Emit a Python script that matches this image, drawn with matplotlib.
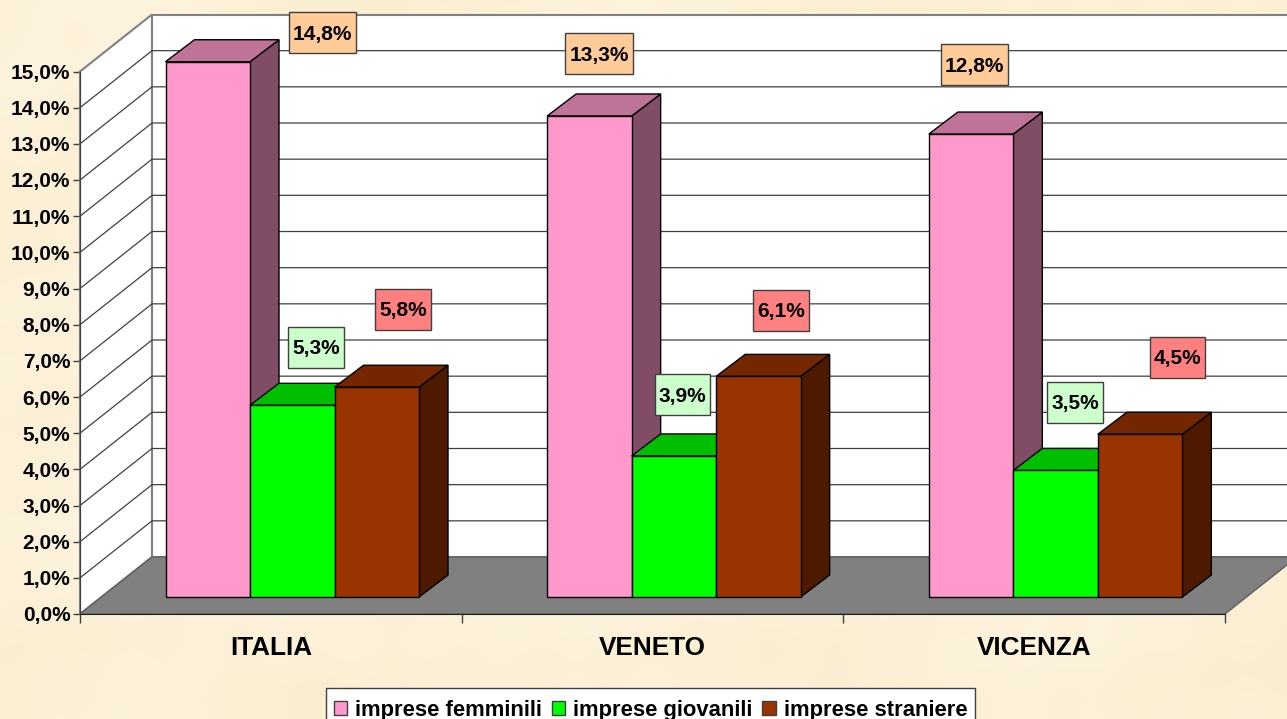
import numpy as np
import matplotlib
matplotlib.use('Agg')
import matplotlib.pyplot as plt
from matplotlib.patches import Polygon, Patch, Rectangle

plt.rcParams['font.family'] = ['Liberation Sans', 'DejaVu Sans']
plt.rcParams['font.weight'] = 'bold'

categories = ['ITALIA', 'VENETO', 'VICENZA']
series_names = ['imprese femminili', 'imprese giovanili', 'imprese straniere']
femminili = [14.8, 13.3, 12.8]
giovanili = [5.3, 3.9, 3.5]
straniere = [5.8, 6.1, 4.5]
y_ticks = np.arange(0, 16)

W, H = 1287, 719
# colours: front, top, side, label box
front = ['#FF99CC', '#00FF00', '#993300']
top = ['#BF7399', '#00BF00', '#732600']
side = ['#804C66', '#008000', '#4D1A00']
label_bg = ['#FFCC99', '#CCFFCC', '#FF8080']
# hand moved data labels, pixels from the top centre of each bar
label_offset = [[(115, 29), (23.5, 58), (26, 78)],
                [(9.5, 62), (8.5, 61), (22.5, 66)],
                [(3.5, 69.5), (19.5, 68), (37.5, 77)]]

fig = plt.figure(figsize=(W / 100, H / 100), dpi=100, facecolor='#FCF0D8')

# parchment background
bg = fig.add_axes([0, 0, 1, 1], zorder=0)
yy, xx = np.mgrid[0:H // 8, 0:W // 8]
tex = (np.sin(xx / 9.0 + np.sin(yy / 7.0)) + np.sin(yy / 5.0 + 1.3 * np.sin(xx / 11.0))
       + 0.6 * np.sin((xx + yy) / 2.7) * np.sin((xx - yy) / 3.3))
tex = (tex - tex.min()) / (tex.max() - tex.min())
img = np.zeros(tex.shape + (3,))
for i, (a, b) in enumerate(zip((250, 238, 208), (254, 243, 222))):
    img[..., i] = (a + (b - a) * tex) / 255
bg.imshow(img, aspect='auto', interpolation='bicubic')
bg.set_axis_off()

# axes rectangle is the front plane of the 3d box
x0, x1, y0, y1 = 80, 1225, 614, 71.5
ax = fig.add_axes([x0 / W, 1 - y0 / H, (x1 - x0) / W, (y0 - y1) / H], zorder=1)
ax.set_xlim(0, 3)
ax.set_ylim(0, 15)
ax.patch.set_visible(False)
px_x = 3 / (x1 - x0)
px_y = 15 / (y0 - y1)

wall_dx, wall_dy = 72 * px_x, 57 * px_y
depth_dx, depth_dy = 29 * px_x, 22 * px_y
base = 17 * px_y
left_gap = 85.5 * px_x
bar_w = 84.5 * px_x


def poly(pts, fc, ec, lw=1.0, z=2):
    ax.add_patch(Polygon(pts, closed=True, facecolor=fc, edgecolor=ec, linewidth=lw,
                         clip_on=False, zorder=z, joinstyle='miter'))


# walls and floor
y_top = 15
poly([(0, 0), (wall_dx, wall_dy), (wall_dx, y_top + wall_dy), (0, y_top)], 'white', '#808080', 1.5)
poly([(wall_dx, wall_dy), (3.3, wall_dy), (3.3, y_top + wall_dy), (wall_dx, y_top + wall_dy)],
     'white', '#808080', 1.5)
for v in y_ticks[1:-1]:
    ax.plot([0, wall_dx, 3.3], [v, v + wall_dy, v + wall_dy], color='#404040', lw=0.9,
            clip_on=False, zorder=2.1)
poly([(0, 0), (wall_dx, wall_dy), (3 + wall_dx, wall_dy), (3, 0)], '#808080', '#606060', 1.0, 2.2)

# bars
renderer = fig.canvas.get_renderer()
for g, cat in enumerate(categories):
    vals = [femminili[g], giovanili[g], straniere[g]]
    for s, v in enumerate(vals):
        xl = g + left_gap + s * bar_w
        xr = xl + bar_w
        yt = base + v
        poly([(xr, base), (xr + depth_dx, base + depth_dy), (xr + depth_dx, yt + depth_dy), (xr, yt)],
             side[s], 'black', 1.0, 3 + s)
        poly([(xl, yt), (xl + depth_dx, yt + depth_dy), (xr + depth_dx, yt + depth_dy), (xr, yt)],
             top[s], 'black', 1.0, 3 + s)
        poly([(xl, base), (xl, yt), (xr, yt), (xr, base)], front[s], 'black', 1.0, 3 + s)
        # label box is wider than tall padding would give, so draw it apart from the text
        lx = (xl + xr) / 2 + label_offset[g][s][0] * px_x
        ly = yt + label_offset[g][s][1] * px_y
        t = ax.text(lx, ly - 1.5 * px_y, '{:.1f}%'.format(v).replace('.', ','), ha='center', va='center',
                    fontsize=15, color='black', zorder=11, clip_on=False)
        box_w = (t.get_window_extent(renderer).width + 8) * px_x
        box_h = 41 * px_y
        ax.add_patch(Rectangle((lx - box_w / 2, ly - box_h / 2), box_w, box_h, facecolor=label_bg[s],
                               edgecolor='#404040', linewidth=1.0, clip_on=False, zorder=10))

# axes and ticks
for name in ('top', 'right'):
    ax.spines[name].set_visible(False)
ax.spines['left'].set_color('#404040')
ax.spines['bottom'].set_color('#202020')
ax.spines['left'].set_zorder(2.5)
ax.spines['bottom'].set_zorder(2.5)
ax.set_yticks(y_ticks)
ax.set_yticklabels(['{:.1f}%'.format(v).replace('.', ',') for v in y_ticks], fontsize=15)
ax.tick_params(axis='y', length=5, width=1, color='#404040', pad=2)
ax.set_xticks([0, 1, 2, 3])
ax.set_xticklabels([])
ax.tick_params(axis='x', length=6.5, width=1, color='#404040')
ax.set_xticks([0.5, 1.5, 2.5], minor=True)
ax.set_xticklabels(categories, minor=True, fontsize=18.8)
ax.tick_params(axis='x', which='minor', length=0, pad=15.7)

# legend frame runs off the bottom of the picture, text sits low in it
fig.add_artist(Rectangle((326 / W, -0.01), 649 / W, 1 - 688 / H + 0.01, transform=fig.transFigure,
                         facecolor='white', edgecolor='#404040', linewidth=1.0, zorder=19))
handles = [Patch(facecolor=c, edgecolor='#404040', linewidth=1.0) for c in front]
leg = fig.legend(handles, series_names, ncol=3, loc='upper left', bbox_to_anchor=(326 / W, 1 - 692 / H),
                 borderaxespad=0, fontsize=15.8, frameon=False,
                 handlelength=0.6, handleheight=0.6, handletextpad=0.37, columnspacing=0.45,
                 borderpad=0.36)
leg.set_zorder(20)

fig.savefig('out.png', dpi=100, facecolor=fig.get_facecolor())
